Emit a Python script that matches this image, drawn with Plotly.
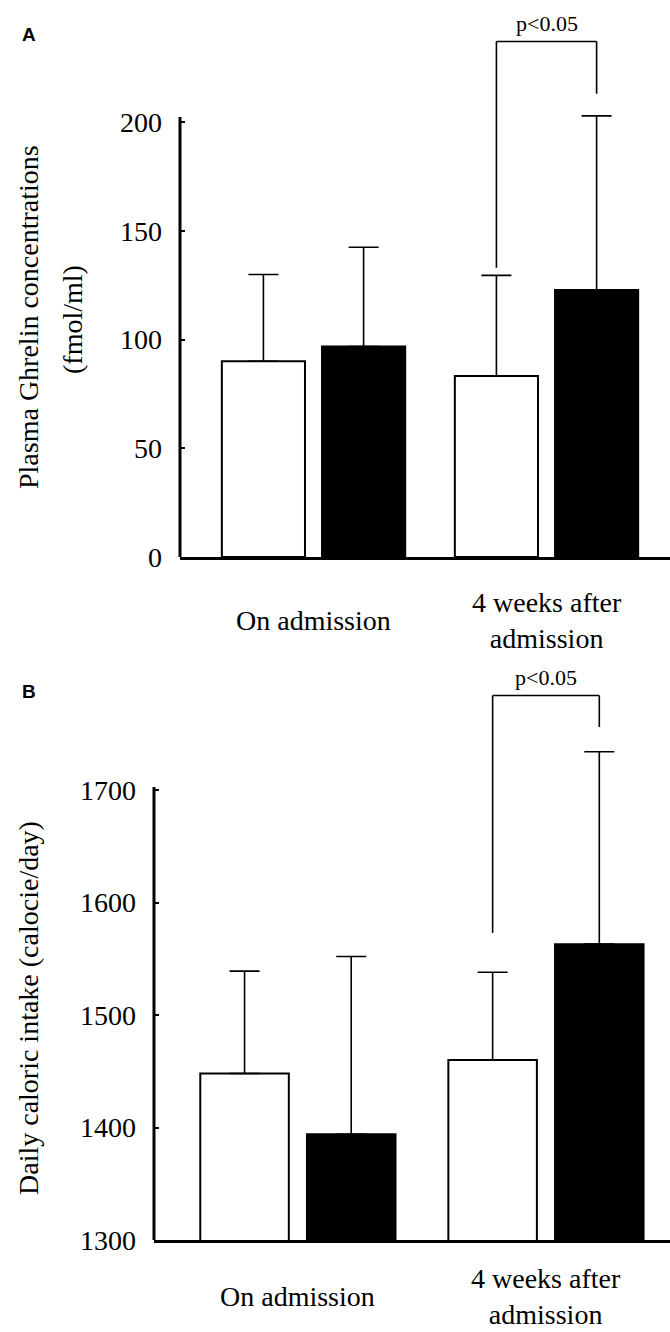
import plotly.graph_objects as go

# ---------------- data ----------------
categories = ["On admission", "4 weeks after<br>admission"]

ghrelin_open = [90.0, 83.2]
ghrelin_open_sd = [39.9, 46.3]
ghrelin_filled = [96.8, 122.8]
ghrelin_filled_sd = [45.6, 80.0]

intake_open = [1448, 1460]
intake_open_sd = [91, 78]
intake_filled = [1394, 1563]
intake_filled_sd = [158, 171]

ghrelin_ticks = [0, 50, 100, 150, 200]
intake_ticks = [1300, 1400, 1500, 1600, 1700]

sig_label = "p<0.05"
# bracket levels: [top, left-leg bottom, right-leg bottom]
ghrelin_bracket = [237, 133, 213]
intake_bracket = [1784, 1573, 1756]

panel_labels = ["A", "B"]
ghrelin_title = ["Plasma Ghrelin concentrations", "(fmol/ml)"]
intake_title = "Daily caloric intake (calocie/day)"

# ---------------- style ----------------
W, H = 670, 1332
SERIF = "Liberation Serif, Times New Roman, serif"
BARGAP = 0.14
BARGROUPGAP = 0.17
OFF = (1 - BARGAP) / 4  # centre offset of each bar within its group

# visible extent of the drawn y axis lines
A_AXIS = (0, 202.3)
B_AXIS = (1300, 1702.7)


def px_x(p):
    return p / W


def px_y(p):
    return 1 - p / H


fig = go.Figure()


def add_pair(open_vals, open_sd, filled_vals, filled_sd, xa, ya):
    fig.add_trace(go.Bar(
        x=categories, y=open_vals, xaxis=xa, yaxis=ya,
        marker=dict(color="white", line=dict(color="black", width=2)),
        error_y=dict(type="data", symmetric=False, array=open_sd,
                     arrayminus=[0] * len(open_sd), thickness=1.6,
                     width=15, color="black"),
        cliponaxis=False, showlegend=False, name="open"))
    fig.add_trace(go.Bar(
        x=categories, y=filled_vals, xaxis=xa, yaxis=ya,
        marker=dict(color="black", line=dict(color="black", width=2)),
        error_y=dict(type="data", symmetric=False, array=filled_sd,
                     arrayminus=[0] * len(filled_sd), thickness=1.6,
                     width=15, color="black"),
        cliponaxis=False, showlegend=False, name="filled"))


add_pair(ghrelin_open, ghrelin_open_sd, ghrelin_filled, ghrelin_filled_sd, "x", "y")
add_pair(intake_open, intake_open_sd, intake_filled, intake_filled_sd, "x2", "y2")

xcommon = dict(showgrid=False, zeroline=False, showline=True,
               linecolor="black", linewidth=3, type="category",
               showticklabels=False, ticks="")
ycommon = dict(showgrid=False, zeroline=False, showline=False,
               ticks="inside", ticklen=5, tickwidth=2, tickcolor="black",
               ticklabelstandoff=17, automargin=False,
               tickfont=dict(family=SERIF, size=28, color="black"))

fig.update_layout(
    width=W, height=H,
    margin=dict(l=0, r=0, t=0, b=0),
    paper_bgcolor="white", plot_bgcolor="white",
    barmode="group", bargap=BARGAP, bargroupgap=BARGROUPGAP,
    font=dict(family=SERIF, color="black", size=28),
    hovermode=False,
    xaxis=dict(domain=[px_x(180), 1], anchor="y",
               range=[-0.573, 1.530], automargin=False, **xcommon),
    yaxis=dict(domain=[px_y(557), px_y(10)], anchor="x",
               range=[0, 251.5], tickvals=ghrelin_ticks, **ycommon),
    xaxis2=dict(domain=[px_x(154), 1], anchor="y2",
                range=[-0.58, 1.50], automargin=False, **xcommon),
    yaxis2=dict(domain=[px_y(1240), px_y(660)], anchor="x2",
                range=[1300, 1815.6], tickvals=intake_ticks, **ycommon),
)

annotations = []
shapes = []

# y axis lines (only up to the top tick region, like the original)
for xr, yr, ext in (("x", "y", A_AXIS), ("x2", "y2", B_AXIS)):
    shapes.append(dict(type="line", xref=xr + " domain", yref=yr,
                       x0=0, x1=0, y0=ext[0], y1=ext[1],
                       line=dict(color="black", width=3)))

# category labels
for xr, ypix in (("x", 620), ("x2", 1296)):
    for i, c in enumerate(categories):
        annotations.append(dict(x=i, y=px_y(ypix), xref=xr, yref="paper",
                                text=c, showarrow=False, yanchor="middle",
                                xanchor="center",
                                font=dict(family=SERIF, size=28)))

# y titles
for txt, xp, yp in ((ghrelin_title[0], 28, 317), (ghrelin_title[1], 72, 320),
                    (intake_title, 28, 1008)):
    annotations.append(dict(x=px_x(xp), y=px_y(yp), xref="paper", yref="paper",
                            text=txt, textangle=-90, showarrow=False,
                            xanchor="center", yanchor="middle",
                            font=dict(family=SERIF, size=28)))

# panel letters
for lab, ypix in zip(panel_labels, (35, 692)):
    annotations.append(dict(x=px_x(29), y=px_y(ypix), xref="paper", yref="paper",
                            text="<b>%s</b>" % lab, showarrow=False,
                            xanchor="center", yanchor="middle",
                            font=dict(family="Liberation Sans, Arial, sans-serif",
                                      size=19)))

# significance brackets
for xr, yr, br in (("x", "y", ghrelin_bracket), ("x2", "y2", intake_bracket)):
    top, lbot, rbot = br
    xl, xrt = 1 - OFF, 1 + OFF
    line = dict(color="black", width=1.6)
    shapes.append(dict(type="line", xref=xr, yref=yr, x0=xl, x1=xl, y0=lbot, y1=top, line=line))
    shapes.append(dict(type="line", xref=xr, yref=yr, x0=xl, x1=xrt, y0=top, y1=top, line=line))
    shapes.append(dict(type="line", xref=xr, yref=yr, x0=xrt, x1=xrt, y0=rbot, y1=top, line=line))
    annotations.append(dict(x=1, y=top, xref=xr, yref=yr, text=sig_label,
                            showarrow=False, xanchor="center", yanchor="bottom",
                            yshift=4, font=dict(family=SERIF, size=22)))

fig.update_layout(annotations=annotations, shapes=shapes)

fig.write_html("out.html",
               config={"displayModeBar": False, "staticPlot": True},
               post_script="document.body.style.margin='0px';document.body.style.padding='0px';")
